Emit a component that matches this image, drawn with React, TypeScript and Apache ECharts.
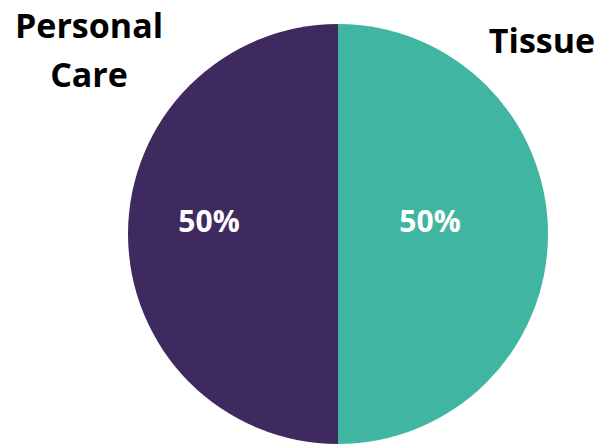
import React, { useEffect, useRef } from "react";
import * as echarts from "echarts";

const categories = ["Tissue", "Personal Care"];
const values = [50, 50];
const colors = ["#40B5A2", "#3E2A5E"];

export default function App() {
  const ref = useRef<HTMLDivElement>(null);
  useEffect(() => {
    if (!ref.current) return;
    const chart = echarts.init(ref.current, null, { renderer: "svg" });
    const data = categories.map((name, i) => ({ name, value: values[i], itemStyle: { color: colors[i] } }));
    const total = values.reduce((a, b) => a + b, 0);
    const font = "'Open Sans', sans-serif";
    const namePos = [
      { x: 542, y: 40 },
      { x: 89, y: 49.5 },
    ];
    chart.setOption({
      animation: false,
      backgroundColor: "#ffffff",
      graphic: categories.map((name, i) => ({
        type: "text",
        x: namePos[i].x,
        y: namePos[i].y,
        silent: true,
        style: {
          text: name.replace(" ", "\n"),
          fill: "#000000",
          font: `bold 34px ${font}`,
          lineHeight: 49,
          align: "center",
          verticalAlign: "middle",
        },
      })),
      series: [
        {
          type: "pie",
          center: [338, 234],
          radius: [0, 210],
          startAngle: 90,
          clockwise: true,
          silent: true,
          data,
          itemStyle: { borderWidth: 0 },
          label: {
            show: true,
            position: "inside",
            formatter: (p: any) => Math.round((p.value / total) * 100) + "%",
            color: "#ffffff",
            fontFamily: font,
            fontWeight: "bold",
            fontSize: 30,
          },
          labelLayout: (p: any) => ({
            x: p.dataIndex === 0 ? 430 : 209,
            y: 220,
            align: "center",
            verticalAlign: "middle",
          }),
          labelLine: { show: false },
        },
      ],
    });
    return () => chart.dispose();
  }, []);
  return <div ref={ref} style={{ position: "fixed", left: 0, top: 0, width: 596, height: 444 }} />;
}
